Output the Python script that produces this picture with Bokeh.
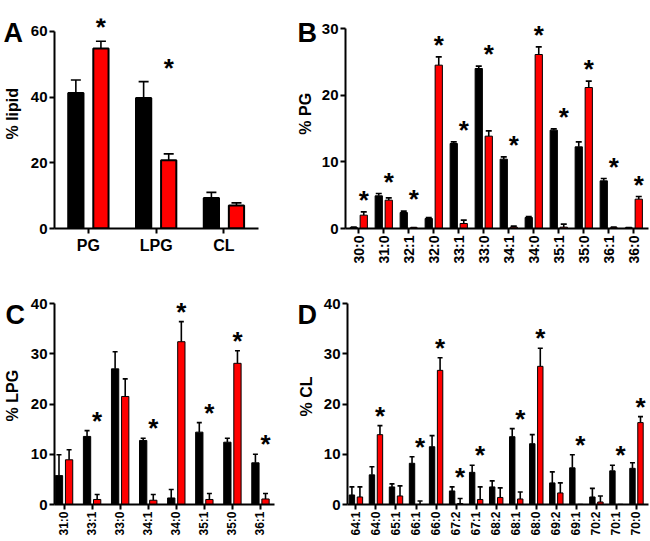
import math
from bokeh.plotting import figure
from bokeh.models import ColumnDataSource, Range1d, FixedTicker, Whisker, TeeHead
from bokeh.layouts import row, column
from bokeh.core.properties import value
from bokeh.embed import file_html
from bokeh.resources import INLINE

# ---------------- data ----------------
cats_a = ["PG", "LPG", "CL"]
a_ctrl = [41.2, 39.7, 9.3]
a_ctrl_sd = [4.0, 5.0, 1.7]
a_trt = [54.8, 20.8, 7.0]
a_trt_sd = [2.2, 1.9, 0.8]
a_sig = [True, True, False]

cats_b = ["30:0", "31:0", "32:1", "32:0", "33:1", "33:0", "34:1", "34:0", "35:1", "35:0", "36:1", "36:0"]
b_ctrl = [0.15, 4.9, 2.4, 1.5, 12.75, 24.0, 10.4, 1.65, 14.75, 12.25, 7.15, 0.1]
b_ctrl_sd = [0.05, 0.35, 0.2, 0.15, 0.25, 0.35, 0.35, 0.15, 0.2, 0.75, 0.35, 0.05]
b_trt = [2.0, 4.25, 0.1, 24.5, 0.75, 13.85, 0.2, 26.1, 0.2, 21.15, 0.1, 4.4]
b_trt_sd = [0.5, 0.35, 0.05, 1.25, 0.5, 0.8, 0.15, 1.15, 0.45, 0.95, 0.1, 0.4]
b_sig = [True] * 12

cats_c = ["31:0", "33:1", "33:0", "34:1", "34:0", "35:1", "35:0", "36:1"]
c_ctrl = [5.75, 13.55, 27.0, 12.75, 1.3, 14.4, 12.4, 8.3]
c_ctrl_sd = [4.15, 1.15, 3.4, 0.45, 1.7, 1.9, 0.8, 1.7]
c_trt = [8.9, 1.0, 21.5, 0.85, 32.4, 1.0, 28.1, 1.1]
c_trt_sd = [2.0, 1.0, 3.5, 1.15, 4.0, 1.2, 2.5, 1.1]
c_sig = [False, True, False, True, True, True, True, True]

cats_d = ["64:1", "64:0", "65:1", "66:1", "66:0", "67:2", "67:1", "68:2",
          "68:1", "68:0", "69:2", "69:1", "70:2", "70:1", "70:0"]
d_ctrl = [1.9, 5.9, 3.5, 8.2, 11.5, 2.7, 6.4, 3.5, 13.5, 12.1, 4.3, 7.3, 1.5, 6.7, 7.2]
d_ctrl_sd = [1.6, 1.6, 0.6, 1.3, 2.2, 0.8, 1.4, 1.2, 1.6, 1.8, 2.2, 2.6, 1.7, 1.1, 1.1]
d_trt = [1.5, 13.9, 1.7, 0.0, 26.7, 0.2, 1.0, 1.4, 1.1, 27.5, 2.3, 0.0, 0.5, 0.0, 16.3]
d_trt_sd = [2.0, 1.8, 2.0, 0.7, 2.5, 1.0, 2.5, 1.9, 1.4, 3.6, 2.0, 0.0, 1.2, 0.0, 1.2]
d_sig = [False, True, False, True, True, True, True, False, True, True, False, True, False, True, True]

panel_letters = ["A", "B", "C", "D"]
y_titles = ["% lipid", "% PG", "% LPG", "% CL"]

FONT = "Liberation Sans"
RED = "#FF0000"


def side(letter, ytitle, width, height, letter_pos, title_pos):
    """Narrow strip left of a panel holding the panel letter and the y-axis title."""
    s = figure(width=width, height=height, x_range=Range1d(0, width), y_range=Range1d(height, 0),
               x_axis_type=None, y_axis_type=None, output_backend="svg", toolbar_location=None,
               min_border=0, title=None)
    s.outline_line_color = None
    s.background_fill_color = "white"
    s.border_fill_color = "white"
    s.text(x=[letter_pos[0]], y=[letter_pos[1]], text=[letter], text_font=value(FONT),
           text_font_style="bold", text_font_size="27px", text_align="left",
           text_baseline="top", text_color="black", y_offset=-2)
    s.text(x=[title_pos[0]], y=[title_pos[1]], text=[ytitle], text_font=value(FONT),
           text_font_style="bold", text_font_size="16px", text_align="center",
           text_baseline="middle", text_color="black", angle=math.pi / 2)
    return s


def panel(cats, ctrl, ctrl_sd, trt, trt_sd, sig, yticks, *,
          width, height, mbl, mbr, mbt, mbb, xr, yend, off, bw, cap,
          xfont, rotate, star_dy, bar_lw, xstandoff):
    n = len(cats)
    idx = list(range(n))
    p = figure(width=width, height=height, x_range=Range1d(*xr), y_range=Range1d(0, yend),
               output_backend="svg", toolbar_location=None, title=None,
               min_border_left=mbl, min_border_right=mbr,
               min_border_top=mbt, min_border_bottom=mbb)
    p.outline_line_color = None
    p.xgrid.visible = False
    p.ygrid.visible = False
    p.background_fill_color = "white"
    p.border_fill_color = "white"

    for vals, sds, color, o in ((ctrl, ctrl_sd, "black", -off), (trt, trt_sd, RED, off)):
        src = ColumnDataSource(dict(
            xc=[i + o for i in idx],
            top=vals,
            up=[v + s for v, s in zip(vals, sds)],
        ))
        p.vbar(x="xc", top="top", width=bw, source=src, fill_color=color,
               line_color="black", line_width=bar_lw)
        p.add_layout(Whisker(source=src, base="xc", upper="up", lower="top",
                             dimension="height", line_color="black", line_width=1.6,
                             upper_head=TeeHead(size=cap, line_color="black", line_width=1.6),
                             lower_head=None))

    sx = [i + off for i in idx if sig[i]]
    sy = [max(ctrl[i] + ctrl_sd[i], trt[i] + trt_sd[i]) for i in idx if sig[i]]
    p.text(x=sx, y=sy, text=["*"] * len(sx), text_font=value(FONT), text_font_style="bold",
           text_font_size="26px", text_align="center", text_baseline="alphabetic",
           text_color="black", y_offset=star_dy)

    p.xaxis.ticker = FixedTicker(ticks=idx)
    p.xaxis.major_label_overrides = {i: c for i, c in enumerate(cats)}
    if rotate:
        p.xaxis.major_label_orientation = math.pi / 2
    p.xaxis.major_label_text_font_size = xfont
    p.xaxis.major_label_standoff = xstandoff

    p.yaxis.ticker = FixedTicker(ticks=yticks)
    p.yaxis.bounds = (0, yticks[-1])
    p.yaxis.major_label_text_font_size = "15px"
    p.yaxis.major_label_standoff = 2

    for ax in (p.xaxis[0], p.yaxis[0]):
        ax.axis_line_width = 2
        ax.axis_line_color = "black"
        ax.major_tick_line_width = 2
        ax.major_tick_line_color = "black"
        ax.major_tick_in = 0
        ax.major_tick_out = 5
        ax.minor_tick_line_color = None
        ax.major_label_text_font = FONT
        ax.major_label_text_font_style = "bold"
        ax.major_label_text_color = "black"
    return p


sA = side(panel_letters[0], y_titles[0], 27, 280, (3, 2), (12, 127))
pA = panel(cats_a, a_ctrl, a_ctrl_sd, a_trt, a_trt_sd, a_sig, [0, 20, 40, 60],
           width=266, height=280, mbl=25, mbr=35, mbt=15, mbb=52,
           xr=(-0.5, 2.51), yend=63.9, off=0.185, bw=0.225, cap=10,
           xfont="16px", rotate=False, star_dy=-14, bar_lw=2, xstandoff=3)

sB = side(panel_letters[1], y_titles[1], 25, 280, (4, 2), (12, 127))
pB = panel(cats_b, b_ctrl, b_ctrl_sd, b_trt, b_trt_sd, b_sig, [0, 10, 20, 30],
           width=331, height=280, mbl=27, mbr=1, mbt=18, mbb=52,
           xr=(-0.53, 11.59), yend=31.5, off=0.2, bw=0.29, cap=6,
           xfont="14px", rotate=True, star_dy=-12, bar_lw=1, xstandoff=2)

sC = side(panel_letters[2], y_titles[2], 27, 260, (5, 7), (12, 124))
pC = panel(cats_c, c_ctrl, c_ctrl_sd, c_trt, c_trt_sd, c_sig, [0, 10, 20, 30, 40],
           width=266, height=260, mbl=25, mbr=19, mbt=16, mbb=36,
           xr=(-0.34, 7.5), yend=41.4, off=0.18, bw=0.26, cap=5,
           xfont="12px", rotate=True, star_dy=-10, bar_lw=1, xstandoff=2)

sD = side(panel_letters[3], y_titles[3], 27, 260, (4, 7), (13, 125))
pD = panel(cats_d, d_ctrl, d_ctrl_sd, d_trt, d_trt_sd, d_sig, [0, 10, 20, 30, 40],
           width=329, height=260, mbl=27, mbr=1, mbt=16, mbb=36,
           xr=(-0.42, 14.6), yend=41.4, off=0.2, bw=0.27, cap=5,
           xfont="12px", rotate=True, star_dy=-10, bar_lw=1, xstandoff=2)

layout = column(row(sA, pA, sB, pB), row(sC, pC, sD, pD))
open("out.html", "w").write(file_html(layout, INLINE))
